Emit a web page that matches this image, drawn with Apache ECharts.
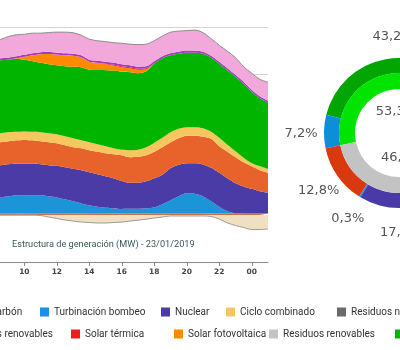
<!DOCTYPE html>
<html lang="es">
<head>
<meta charset="UTF-8">
<title>Estructura de generación</title>
<script src="https://cdn.jsdelivr.net/npm/echarts@6/dist/echarts.min.js"></script>
<style>
    html, body { margin: 0; padding: 0; background: #fff; }
    #chart { width: 400px; height: 350px; }
</style>
</head>
<body>
<div id="chart"></div>
<script>
    // horas del día (la parte visible del gráfico)
    const horas = [8.5, 9, 9.5, 10, 10.5, 11, 11.5, 12, 12.5, 13, 13.5, 14, 14.5, 15, 15.5, 16, 16.5,
        17, 17.5, 18, 18.5, 19, 19.5, 20, 20.5, 21, 21.5, 22, 22.5, 23, 23.5, 24, 24.5, 25];
    const horasEtiqueta = [10, 12, 14, 16, 18, 20, 22, 24];

    // MW por tecnología
    const enlaceBalear = [350, 350, 340, 340, 350, 350, 360, 350, 350, 340, 340, 350, 350, 350, 340, 340, 350,
        350, 350, 360, 360, 350, 350, 350, 350, 340, 340, 350, 350, 350, 340, 340, 340, 340];
    const hidraulica = [3400, 3620, 3830, 3830, 3830, 3830, 3620, 3400, 2980, 2560, 2130, 1700, 1380, 1170, 1060, 960, 960,
        960, 1060, 1280, 1920, 2770, 3620, 4260, 4150, 3620, 2560, 1380, 430, 0, 0, 0, 0, 0];
    const nuclear = [6810, 6810, 6710, 6810, 6710, 6600, 6600, 6710, 6810, 6920, 7030, 7030, 6920, 6710, 6390, 5960, 5540,
        5540, 5750, 6180, 6280, 6810, 6710, 6390, 6500, 6810, 7140, 7240, 7030, 6390, 5750, 5220, 4690, 4370];
    const carbon = [4900, 4900, 5000, 5000, 5000, 4900, 4900, 4790, 4690, 4580, 4690, 4690, 4790, 4900, 5110, 5430, 5430,
        5540, 5540, 5640, 5860, 5540, 5640, 5860, 5860, 5860, 6180, 5640, 5640, 5540, 5110, 4790, 4470, 4260];
    const cicloCombinado = [1920, 1920, 1810, 1810, 1810, 1920, 1920, 1920, 1920, 1920, 1700, 1700, 1600, 1490, 1280, 1170, 1490,
        1490, 1700, 1920, 2020, 2130, 2020, 1810, 1810, 1810, 1490, 1810, 1490, 1280, 960, 640, 850, 850];
    const eolica = [15550, 15440, 15550, 15230, 15020, 14800, 14700, 14700, 14910, 15230, 15550, 15440, 15800, 16190, 16550, 16610, 16610,
        16290, 16190, 16870, 16930, 16400, 15980, 15870, 15870, 15870, 15760, 15760, 15870, 15870, 15760, 15230, 14480, 14060];
    const solarFV = [0, 0, 100, 640, 1280, 1810, 2130, 2240, 2340, 2340, 2130, 1700, 1490, 1280, 1060, 960, 850,
        750, 430, 0, 0, 0, 0, 0, 0, 0, 0, 0, 0, 0, 0, 0, 0, 0];
    const solarTermica = [0, 0, 0, 0, 0, 0, 0, 0, 0, 0, 0, 0, 60, 110, 170, 210, 210,
        210, 210, 60, 0, 0, 0, 0, 0, 0, 0, 0, 0, 0, 0, 0, 0, 0];
    const otrasRenovables = [430, 430, 420, 420, 430, 430, 440, 430, 430, 420, 420, 430, 430, 430, 440, 430, 430,
        430, 420, 420, 430, 430, 430, 440, 430, 430, 420, 420, 430, 430, 430, 420, 420, 430];
    const cogeneracion = [3940, 4470, 4580, 4370, 4260, 4050, 4150, 4370, 4470, 4470, 4260, 4370, 4260, 4260, 4260, 4470, 4470,
        4690, 4690, 4370, 4260, 4470, 4370, 4260, 4370, 4050, 3620, 3510, 3620, 3620, 3200, 3510, 3620, 3940];
    const consumoBombeo = [0, 0, 0, 0, 0, -100, -430, -750, -1060, -1280, -1490, -1600, -1700, -1700, -1600, -1500, -1300,
        -1100, -900, -650, -430, -210, -210, -210, -210, -210, -320, -850, -1700, -2240, -2660, -3090, -3090, -2980];

    // estructura de generación (%)
    const mixNombres = ['Solar fotovoltaica', 'Solar térmica', 'Otras renovables', 'Residuos renovables', 'Eólica',
        'Hidráulica', 'Carbón', 'Turbinación bombeo', 'Nuclear', 'Ciclo combinado', 'Cogeneración', 'Residuos no renovables'];
    const mixPct = [1.7, 0.2, 0.7, 0.3, 43.2, 7.2, 12.8, 0.3, 17.7, 4.0, 11.2, 0.7];
    const renovNombres = ['Renovable', 'No renovable'];
    const renovPct = [53.3, 46.7];

    const leyendaFila1 = ['Carbón', 'Turbinación bombeo', 'Nuclear', 'Ciclo combinado', 'Residuos no renovables'];
    const leyendaFila2 = ['Otras renovables', 'Solar térmica', 'Solar fotovoltaica', 'Residuos renovables', 'Eólica'];

    const colorArea = {
        'Enlace balear': '#c8704c',
        'Hidráulica': '#1b95d8',
        'Nuclear': '#4a3ba6',
        'Carbón': '#e8632b',
        'Ciclo combinado': '#f8c65e',
        'Eólica': '#00b400',
        'Solar fotovoltaica': '#ff8a00',
        'Solar térmica': '#ee1c1c',
        'Otras renovables': '#a43cc0',
        'Cogeneración': '#f2a8da',
        'Consumo bombeo': '#efe0c2'
    };
    const colorMix = {
        'Solar fotovoltaica': '#ff8a00',
        'Solar térmica': '#ee1c1c',
        'Otras renovables': '#a43cc0',
        'Residuos renovables': '#c4c4c4',
        'Eólica': '#03a503',
        'Hidráulica': '#0c8fd6',
        'Carbón': '#d8390f',
        'Turbinación bombeo': '#1f8fe6',
        'Nuclear': '#4a3aa8',
        'Ciclo combinado': '#f8c65e',
        'Cogeneración': '#f2a8da',
        'Residuos no renovables': '#6a6a6a'
    };
    const colorRenov = ['#00e400', '#c3c3c3'];

    const capas = [
        ['Enlace balear', enlaceBalear],
        ['Hidráulica', hidraulica],
        ['Nuclear', nuclear],
        ['Carbón', carbon],
        ['Ciclo combinado', cicloCombinado],
        ['Eólica', eolica],
        ['Solar fotovoltaica', solarFV],
        ['Solar térmica', solarTermica],
        ['Otras renovables', otrasRenovables],
        ['Cogeneración', cogeneracion]
    ];

    const myChart = echarts.init(document.getElementById('chart'));

    const series = capas.map(([name, vals]) => ({
        type: 'line',
        name: name,
        stack: 'gen',
        data: vals,
        showSymbol: false,
        smooth: 0.3,
        lineStyle: name === 'Cogeneración' ? { width: 1, color: '#8c8c8c' } : { width: 0 },
        itemStyle: { color: colorArea[name] },
        areaStyle: { color: colorArea[name], opacity: 1 }
    }));
    series.push({
        type: 'line',
        name: 'Consumo bombeo',
        stack: 'neg',
        data: consumoBombeo,
        showSymbol: false,
        smooth: 0.3,
        lineStyle: { width: 1, color: '#9a9a9a' },
        itemStyle: { color: colorArea['Consumo bombeo'] },
        areaStyle: { color: colorArea['Consumo bombeo'], opacity: 1 }
    });

    const pct = p => p.value.toFixed(1).replace('.', ',') + '%';
    const pieBase = { type: 'pie', center: [399, 133], clockwise: false, startAngle: 0, silent: true, animation: false };

    series.push(Object.assign({}, pieBase, {
        radius: [60, 75],
        label: { show: false }, labelLine: { show: false },
        data: mixNombres.map((n, i) => ({ name: n, value: mixPct[i], itemStyle: { color: colorMix[n] } }))
    }));
    series.push(Object.assign({}, pieBase, {
        radius: [44, 60],
        label: { show: false }, labelLine: { show: false },
        data: renovNombres.map((n, i) => ({ name: n, value: renovPct[i], itemStyle: { color: colorRenov[i] } }))
    }));
    // etiquetas exteriores e interiores (series transparentes)
    const estiloEtiqueta = { show: true, position: 'inside', formatter: pct, fontSize: 13, fontFamily: 'DejaVu Sans', color: '#555' };
    series.push(Object.assign({}, pieBase, {
        radius: [85, 105],
        itemStyle: { color: 'rgba(0,0,0,0)' },
        label: Object.assign({}, estiloEtiqueta, { offset: [0, 2] }), labelLine: { show: false },
        data: mixPct.map((v, i) => i === 4 ? { value: v, label: { offset: [-9, 2] } } : { value: v })
    }));
    series.push(Object.assign({}, pieBase, {
        radius: [0, 44],
        itemStyle: { color: 'rgba(0,0,0,0)' },
        label: estiloEtiqueta, labelLine: { show: false },
        data: renovPct.map((v, i) => i === 0 ? { value: v, label: { offset: [0, 3] } } : { value: v })
    }));

    const fila1X = [-24, 40, 161, 226, 337];
    const fila2X = [-36, 71, 174, 269, 395];
    const legendas = [];
    leyendaFila1.forEach((n, i) => legendas.push({ data: [n], left: fila1X[i], top: 307 }));
    leyendaFila2.forEach((n, i) => legendas.push({ data: [n], left: fila2X[i], top: 329 }));
    legendas.forEach(l => Object.assign(l, {
        icon: 'rect', itemWidth: 9, itemHeight: 9, padding: 0, itemGap: 0, selectedMode: false,
        textStyle: { fontSize: 10, fontFamily: 'Roboto', color: '#333' }
    }));

    const marcaHora = (i) => horasEtiqueta.includes(horas[i]);

    const option = {
        animation: false,
        title: {
            text: 'Estructura de generación (MW) - 23/01/2019',
            left: 12,
            top: 240,
            padding: 0,
            textStyle: { fontSize: 9.2, fontWeight: 'normal', color: '#3b5858', fontFamily: 'Roboto' }
        },
        legend: legendas,
        grid: { left: -2, right: 132, top: 27, bottom: 88 },
        xAxis: {
            type: 'category',
            data: horas,
            boundaryGap: false,
            splitLine: { show: false },
            axisLine: { onZero: false, lineStyle: { color: '#8a8a8a' } },
            axisTick: { interval: marcaHora, length: 4, lineStyle: { color: '#8a8a8a' } },
            axisLabel: {
                interval: marcaHora,
                formatter: v => Number(v) === 24 ? '00' : String(v),
                fontSize: 7.5, fontWeight: 'bold', fontFamily: 'DejaVu Sans', color: '#444', margin: 6
            }
        },
        yAxis: {
            type: 'value',
            min: -10000,
            max: 40000,
            interval: 10000,
            axisLabel: { show: false },
            axisLine: { show: false },
            axisTick: { show: false },
            splitLine: { lineStyle: { color: '#d4d4d4' } }
        },
        series: series
    };

    myChart.setOption(option);
</script>
</body>
</html>
